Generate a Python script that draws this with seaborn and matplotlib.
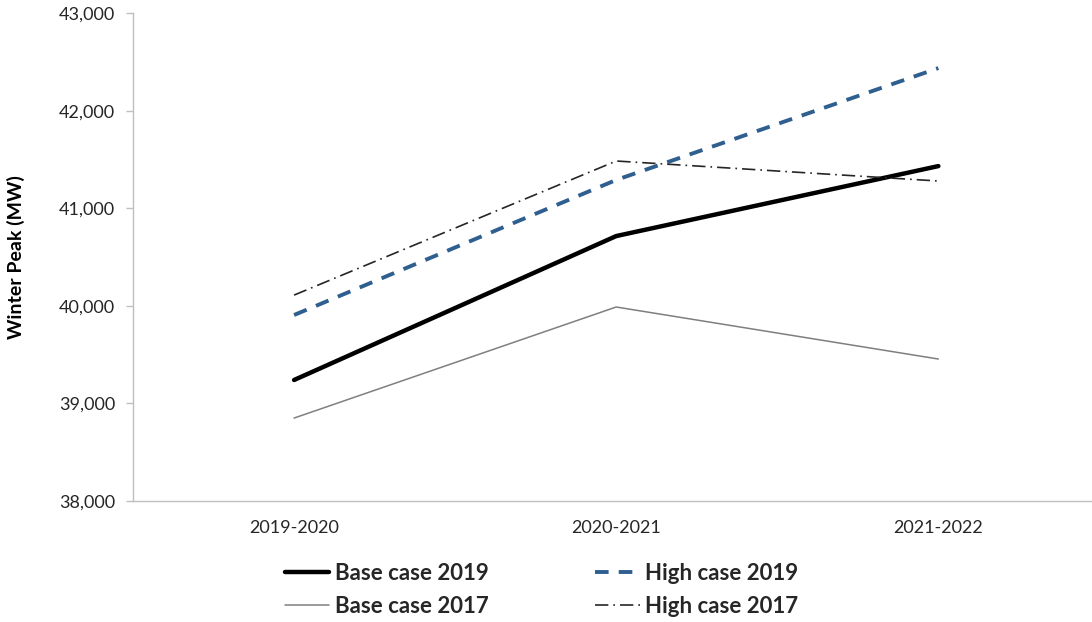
import matplotlib
matplotlib.use('Agg')
import matplotlib.pyplot as plt
import seaborn as sns
import pandas as pd
import numpy as np
from matplotlib.ticker import FuncFormatter, FixedLocator

# data
years = ['2019-2020', '2020-2021', '2021-2022']
base2019 = [39240, 40715, 41432]
high2019 = [39906, 41290, 42436]
base2017 = [38850, 39988, 39455]
high2017 = [40110, 41484, 41279]

sns.set_style('white')
plt.rcParams['font.family'] = ['Lato', 'DejaVu Sans']

fig = plt.figure(figsize=(10.92, 6.22), dpi=100)
ax = fig.add_axes([0.1218, 0.1945, 0.885, 0.7845])

x = np.arange(len(years))
series = [
    ('Base case 2019', base2019, dict(color='black', linewidth=3.2, linestyle='-')),
    ('Base case 2017', base2017, dict(color='#7f7f7f', linewidth=1.1, linestyle='-')),
    ('High case 2019', high2019, dict(color='#2f5f8f', linewidth=2.8, linestyle=(0, (3.5, 2.6)))),
    ('High case 2017', high2017, dict(color='#262626', linewidth=1.2, linestyle=(0, (8, 3, 1, 3)))),
]
for name, vals, style in series:
    df = pd.DataFrame({'x': x, 'y': vals})
    sns.lineplot(data=df, x='x', y='y', ax=ax, label=name, **style)

ax.set_ylim(38000, 43000)
ax.set_yticks(np.arange(38000, 43001, 1000))
ax.yaxis.set_major_formatter(FuncFormatter(lambda v, p: f'{int(v):,}'))
ax.set_xlim(-0.5, 2.5)
ax.set_xticks(x)
ax.set_xticklabels(years)
ax.xaxis.set_minor_locator(FixedLocator([-0.5, 0.5, 1.5, 2.5]))
ax.tick_params(axis='x', which='major', length=0, pad=14, labelsize=13, colors='#262626')
ax.tick_params(axis='x', which='minor', length=5, color='#bfbfbf', width=1)
ax.tick_params(axis='y', which='major', length=5, color='#bfbfbf', width=1, labelsize=13,
               colors='#262626', left=True, pad=8)
ax.set_xlabel('')
ax.set_ylabel('Winter Peak (MW)', fontsize=14, fontweight='bold', labelpad=24, color='black')

for s in ['top', 'right']:
    ax.spines[s].set_visible(False)
for s in ['left', 'bottom']:
    ax.spines[s].set_color('#bfbfbf')
    ax.spines[s].set_linewidth(1)

ax.get_legend().remove()
handles, labels = ax.get_legend_handles_labels()
fig.legend(handles, labels, ncol=2, loc='center left', bbox_to_anchor=(0.261, 0.052),
           frameon=False, handlelength=2.0, handletextpad=0.25, columnspacing=4.8,
           labelspacing=0.55, borderpad=0, borderaxespad=0,
           prop={'size': 16, 'weight': 'bold'})

fig.savefig('out.png', dpi=100)
